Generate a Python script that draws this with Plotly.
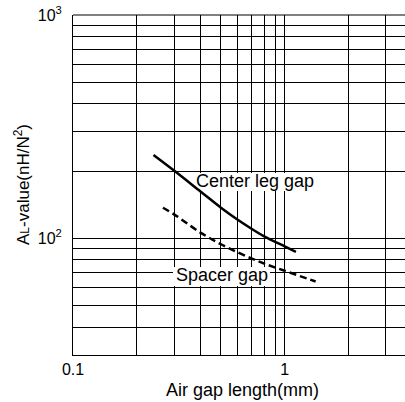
import numpy as np
import plotly.graph_objects as go

# Data
center_x = [0.24, 0.30, 0.40, 0.50, 0.60, 0.70, 0.80, 1.00, 1.13]
center_y = [236, 201, 162, 137, 121, 110, 102, 92, 87]
spacer_x = [0.266, 0.30, 0.40, 0.50, 0.60, 0.70, 0.80, 1.00, 1.40]
spacer_y = [137, 128, 106, 94, 86.5, 81, 77, 71.5, 64]

x_grid = [0.1, 0.2, 0.3, 0.4, 0.5, 0.6, 0.7, 0.8, 0.9, 1, 2, 3]
x_labels = ["0.1", "", "", "", "", "", "", "", "", "1", "", ""]
y_grid = [30, 40, 50, 60, 70, 80, 90, 100, 200, 300, 400, 500, 600, 700, 800, 900, 1000]
y_labels = ["", "", "", "", "", "", "", "10<sup>2</sup>", "", "", "", "", "", "", "", "", "10<sup>3</sup>"]

FONT = "Liberation Sans, Arial, Helvetica, sans-serif"

L, R, T, B = 73, 0, 15, 47
W, H = 405, 402
plot_w = W - L - R
plot_h = H - T - B
XR = [-1, -1 + plot_w / 211.7]
YR = [np.log10(30), 3]


def px(xp):
    return (xp - L) / plot_w


def py(yp):
    return (T + plot_h - yp) / plot_h


def dx(xp):  # pixel -> data value on log x axis
    return 10 ** (XR[0] + px(xp) * (XR[1] - XR[0]))


def dy(yp):
    return 10 ** (YR[0] + py(yp) * (YR[1] - YR[0]))


fig = go.Figure()
fig.add_trace(go.Scatter(x=center_x, y=center_y, mode="lines",
                         line=dict(color="black", width=2.5, shape="spline", smoothing=1.0),
                         showlegend=False, hoverinfo="skip"))
fig.add_trace(go.Scatter(x=spacer_x, y=spacer_y, mode="lines",
                         line=dict(color="black", width=2.5, dash="7px,4px", shape="spline", smoothing=1.0),
                         showlegend=False, hoverinfo="skip"))

fig.update_layout(
    width=W, height=H,
    margin=dict(l=L, r=R, t=T, b=B),
    paper_bgcolor="white", plot_bgcolor="white",
    font=dict(family=FONT, color="black", size=16),
    xaxis=dict(type="log", range=XR, tickvals=x_grid, ticktext=x_labels,
               showgrid=True, gridcolor="black", gridwidth=1, zeroline=False,
               showline=True, linecolor="black", linewidth=1, ticks="",
               tickfont=dict(size=16), ticklabelstandoff=0, automargin=False),
    yaxis=dict(type="log", range=YR, tickvals=y_grid, ticktext=y_labels,
               showgrid=True, gridcolor="black", gridwidth=1, zeroline=False,
               showline=True, linecolor="black", linewidth=1, ticks="",
               tickfont=dict(size=16), ticklabelstandoff=7, automargin=False),
    shapes=[
        dict(type="line", xref="paper", yref="paper", x0=0, x1=1, y0=1, y1=1,
             line=dict(color="black", width=1)),
        dict(type="rect", xref="x", yref="y", layer="between",
             x0=dx(193), x1=dx(316), y0=dy(191), y1=dy(173),
             fillcolor="white", line=dict(width=0)),
        dict(type="rect", xref="x", yref="y", layer="between",
             x0=dx(173), x1=dx(270), y0=dy(286), y1=dy(267),
             fillcolor="white", line=dict(width=0)),
    ],
    annotations=[
        dict(x=np.log10(0.723), y=np.log10(180.6), xref="x", yref="y", text="Center leg gap",
             showarrow=False, font=dict(size=18), borderpad=0),
        dict(x=np.log10(0.506), y=np.log10(68.6), xref="x", yref="y", text="Spacer gap",
             showarrow=False, font=dict(size=18), borderpad=0),
        dict(x=px(242.5), y=py(390), xref="paper", yref="paper",
             text="Air gap length(mm)",
             showarrow=False, font=dict(size=18), xanchor="center", yanchor="middle"),
        dict(x=px(22), y=py(185), xref="paper", yref="paper",
             text="A<span style='font-size:12px'>L</span>-value(nH/N<sup>2</sup>)",
             showarrow=False, textangle=-90, font=dict(size=17), xanchor="center", yanchor="middle"),
    ],
)

fig.write_html("out.html", config={"displayModeBar": False},
               post_script="document.body.style.margin='0';document.body.style.overflow='hidden';")
